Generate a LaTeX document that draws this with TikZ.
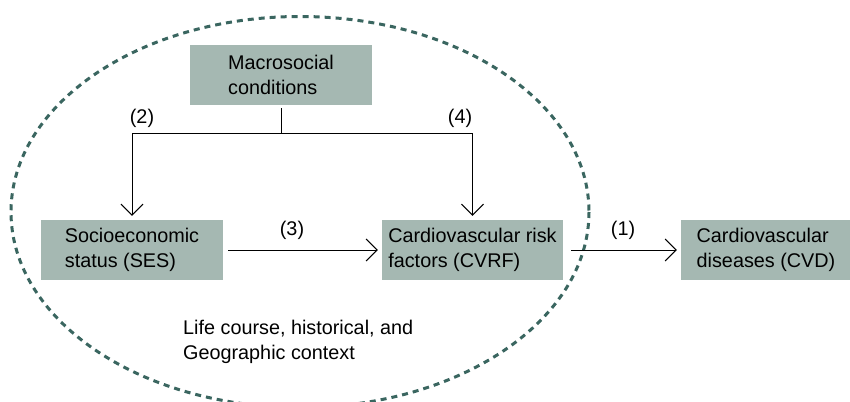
\documentclass[tikz,border=0pt]{standalone}
\usepackage{fontspec}
\setmainfont{Liberation Sans}
\usetikzlibrary{arrows.meta}
\definecolor{boxfill}{RGB}{165,184,178}
\definecolor{ringcol}{RGB}{58,102,96}
\begin{document}
\begin{tikzpicture}[x=1pt,y=-1pt,
  box/.style={fill=boxfill, draw=none, align=left, inner sep=0pt, font=\fontsize{19.8}{25}\selectfont},
  lbl/.style={font=\fontsize{19.8}{25}\selectfont, inner sep=0pt},
  conn/.style={line width=1pt, draw=black},
  arr/.style={conn, -{Straight Barb[length=11pt,width=22pt,line width=1pt]}}
]
\useasboundingbox (0,0) rectangle (850,401);
\draw[ringcol, line width=3pt, dash pattern=on 6pt off 5pt] (300,212) ellipse [x radius=289, y radius=195.5];
\node[box, minimum width=182pt, minimum height=60pt] (macro) at (281,75) {Macrosocial\\conditions};
\node[box, minimum width=182pt, minimum height=60pt] (ses) at (132,250) {Socioeconomic\\status (SES)};
\node[box, minimum width=181pt, minimum height=60pt] (cvrf) at (472.5,250) {Cardiovascular risk\\factors (CVRF)};
\node[box, minimum width=170pt, minimum height=60pt] (cvd) at (766,250) {Cardiovascular\\diseases (CVD)};
\coordinate (j) at (281,133);
\coordinate (jl) at (132,133);
\coordinate (jr) at (472.5,133);
\draw[conn] ([yshift=-3pt]macro.south) -- (j);
\draw[conn] (jl) -- (jr);
\draw[arr, shorten >=4pt] (jl) -- (ses.north);
\draw[arr, shorten >=4pt] (jr) -- (cvrf.north);
\draw[arr, shorten <=5pt, shorten >=4pt] (ses.east) -- (cvrf.west);
\draw[arr, shorten <=8pt, shorten >=4pt] (cvrf.east) -- (cvd.west);
\node[lbl] (l2) at (142,118) {(2)};
\node[lbl] (l4) at (460,118) {(4)};
\node[lbl] (l3) at (292,230) {(3)};
\node[lbl] (l1) at (623,230) {(1)};
\node[lbl, align=left, anchor=north west] (ctx) at (183,320) {Life course, historical, and\\Geographic context};
\end{tikzpicture}
\end{document}
